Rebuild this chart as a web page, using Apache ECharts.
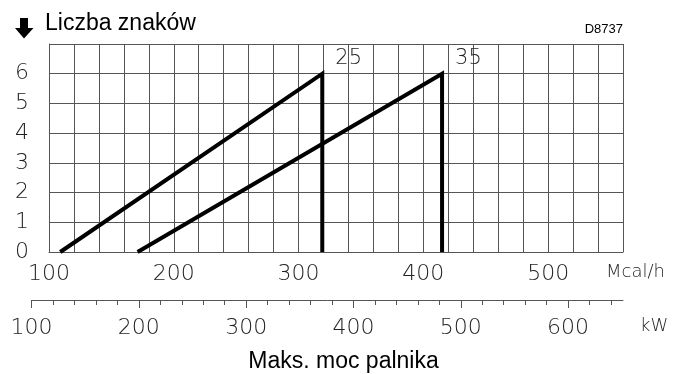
<!DOCTYPE html>
<html>
<head>
<meta charset="utf-8">
<script src="https://cdn.jsdelivr.net/npm/echarts@6/dist/echarts.min.js"></script>
<style>
  html, body { margin: 0; padding: 0; background: #fff; }
  #chart { width: 687px; height: 374px; }
</style>
</head>
<body>
<div id="chart"></div>
<script>
// burner curves: [Mcal/h, number of marks]
const curveNames = ['25', '35'];
const curve25 = [[109, 0], [319, 6], [319, 0]];
const curve35 = [[171, 0], [415, 6], [415, 0]];

// tick labels
const mcalTicks = [100, 200, 300, 400, 500];
const kwTicks = [100, 200, 300, 400, 500, 600];
const levelTicks = [0, 1, 2, 3, 4, 5, 6];

const MCAL_MIN = 100, MCAL_MAX = 560;
const MCAL_PER_KW = 0.86; // 1 kW = 0.86 Mcal/h
const gridColor = '#555';
const thinFont = { fontFamily: 'DejaVu Sans', fontWeight: 200, color: '#222', fontSize: 22 };

// kW axis spans the same pixels as the Mcal axis
const gridLeft = 49, gridRight = 64;
const pxPerMcal = (687 - gridLeft - gridRight) / (MCAL_MAX - MCAL_MIN);
const kwMin = 100, kwMax = MCAL_MAX / MCAL_PER_KW;
const kwLeft = gridLeft + (kwMin * MCAL_PER_KW - MCAL_MIN) * pxPerMcal;

const chart = echarts.init(document.getElementById('chart'));

const curveSeries = [curve25, curve35].map((pts, i) => ({
  name: curveNames[i],
  type: 'line',
  xAxisIndex: 0,
  yAxisIndex: 0,
  showSymbol: true,
  symbolSize: 0,
  animation: false,
  lineStyle: { color: '#000', width: 4, join: 'miter', cap: 'butt' },
  itemStyle: { color: '#000' },
  data: pts.map((p, j) => j === 1
    ? { value: p, label: { show: true, position: 'right', offset: [8, -15], formatter: curveNames[i], ...thinFont, fontSize: 21 } }
    : { value: p })
}));

chart.setOption({
  animation: false,
  grid: [
    { left: gridLeft, right: gridRight, top: 44, bottom: 122 },
    { left: kwLeft, right: gridRight, top: 299, height: 1 }
  ],
  xAxis: [
    {
      type: 'value', gridIndex: 0, min: MCAL_MIN, max: MCAL_MAX, interval: 20,
      axisLine: { show: true, lineStyle: { color: gridColor, width: 1 } },
      axisTick: { show: false },
      splitLine: { show: true, lineStyle: { color: gridColor, width: 1 } },
      axisLabel: { customValues: mcalTicks, margin: 11, ...thinFont }
    },
    {
      type: 'value', gridIndex: 1, min: kwMin, max: kwMax, interval: 100,
      position: 'bottom',
      axisLine: { show: true, lineStyle: { color: gridColor, width: 1 } },
      axisTick: { show: true, customValues: kwTicks, length: 8, lineStyle: { color: gridColor } },
      minorTick: { show: true, splitNumber: 5, length: 5, lineStyle: { color: gridColor } },
      splitLine: { show: false },
      axisLabel: { customValues: kwTicks, margin: 17, ...thinFont }
    }
  ],
  yAxis: [
    {
      type: 'value', gridIndex: 0, min: 0, max: 7, interval: 1,
      axisLine: { show: true, lineStyle: { color: gridColor, width: 1 } },
      axisTick: { show: false },
      splitLine: { show: true, lineStyle: { color: gridColor, width: 1 } },
      axisLabel: { customValues: levelTicks, margin: 20, ...thinFont }
    },
    { type: 'value', gridIndex: 1, show: false, min: 0, max: 1 }
  ],
  graphic: [
    {
      type: 'polygon',
      shape: { points: [[20, 18], [28, 18], [28, 28], [33.5, 28], [24, 38.5], [15, 28], [20, 28]] },
      style: { fill: '#000' }
    },
    {
      type: 'text', left: 45, top: 12,
      style: { text: 'Liczba znaków', font: '23px "Liberation Sans", Arial, sans-serif', fill: '#000' }
    },
    {
      type: 'text', right: 64, top: 23,
      style: { text: 'D8737', font: '13px "Liberation Sans", Arial, sans-serif', fill: '#000' }
    },
    {
      type: 'text', left: 606, top: 263,
      style: { text: 'Mcal/h', font: '200 18px "DejaVu Sans"', fill: '#222' }
    },
    {
      type: 'text', left: 640, top: 317,
      style: { text: 'kW', font: '200 18px "DejaVu Sans"', fill: '#222' }
    },
    {
      type: 'text', left: 'center', top: 350,
      style: { text: 'Maks. moc palnika', font: '23px "Liberation Sans", Arial, sans-serif', fill: '#000' }
    }
  ],
  series: curveSeries
});
</script>
</body>
</html>
